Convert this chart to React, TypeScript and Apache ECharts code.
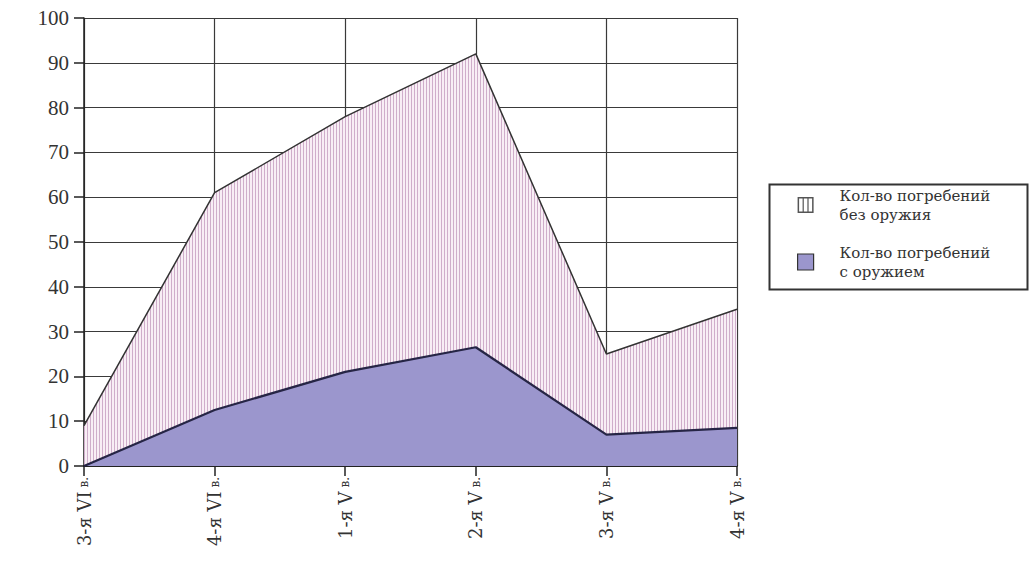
import React, { useEffect, useRef } from "react";
import * as echarts from "echarts";

const categories = ["3-я VI", "4-я VI", "1-я V", "2-я V", "3-я V", "4-я V"];
const centurySuffix = "в.";
const withWeapons = [0, 12.5, 21, 26.5, 7, 8.5];
const withoutWeapons = [9, 48.5, 57, 65.5, 18, 26.5];
const nameWithout = "Кол-во погребений\nбез оружия";
const nameWith = "Кол-во погребений\nс оружием";

const NUM_FONT = "Liberation Serif";
const TEXT_FONT = "DejaVu Serif";
const PURPLE = "#9b96cd";

function makeHatch() {
  const c = document.createElement("canvas");
  c.width = 3;
  c.height = 4;
  const ctx = c.getContext("2d")!;
  ctx.fillStyle = "#f8eef5";
  ctx.fillRect(0, 0, 3, 4);
  ctx.fillStyle = "#cfadca";
  ctx.fillRect(0, 0, 1, 4);
  return c;
}

const hatchIcon =
  "path://M0,0 L16,0 L16,16 L0,16 Z M1.5,1.5 L1.5,14.5 L14.5,14.5 L14.5,1.5 Z M5,1.5 L6.2,1.5 L6.2,14.5 L5,14.5 Z M9.8,1.5 L11,1.5 L11,14.5 L9.8,14.5 Z";

const legendText = {
  fontFamily: TEXT_FONT,
  fontSize: 15,
  lineHeight: 19,
  color: "#333",
  padding: [0, 0, 0, 21],
};

export default function App() {
  const ref = useRef<HTMLDivElement>(null);
  useEffect(() => {
    if (!ref.current) return;
    const chart = echarts.init(ref.current, undefined, { renderer: "svg" });
    const hatch = makeHatch();
    chart.setOption({
      animation: false,
      backgroundColor: "#ffffff",
      grid: { left: 84, right: 297, top: 18, bottom: 97, containLabel: false },
      xAxis: {
        type: "category",
        data: categories,
        boundaryGap: false,
        axisLine: { show: true, lineStyle: { color: "#222", width: 2 } },
        axisTick: { show: true, length: 10, lineStyle: { color: "#222", width: 1.5 } },
        splitLine: { show: true, lineStyle: { color: "#3a3a3a", width: 1.2 } },
        axisLabel: {
          rotate: 90,
          margin: 11,
          color: "#333",
          fontFamily: TEXT_FONT,
          formatter: (v: string) => `{a|${v}} {b|${centurySuffix}}`,
          rich: {
            a: { fontSize: 18, fontFamily: TEXT_FONT, color: "#333" },
            b: { fontSize: 12, fontFamily: TEXT_FONT, color: "#333" },
          },
        },
      },
      yAxis: {
        type: "value",
        min: 0,
        max: 100,
        interval: 10,
        axisLine: { show: true, lineStyle: { color: "#222", width: 1.5 } },
        axisTick: { show: true, length: 10, lineStyle: { color: "#222", width: 1.5 } },
        splitLine: { show: true, lineStyle: { color: "#3a3a3a", width: 1.2 } },
        axisLabel: { margin: 15, fontSize: 21, fontFamily: NUM_FONT, color: "#333" },
      },
      legend: {
        orient: "vertical",
        left: 797,
        top: 186,
        padding: 0,
        itemWidth: 16,
        itemHeight: 16,
        itemGap: 19,
        selectedMode: false,
        textStyle: legendText,
        data: [
          { name: nameWithout, icon: hatchIcon, itemStyle: { color: "#555" }, textStyle: legendText },
          {
            name: nameWith,
            icon: "rect",
            itemStyle: { color: PURPLE, borderColor: "#333", borderWidth: 1.2 },
            textStyle: legendText,
          },
        ],
      },
      graphic: [
        {
          type: "rect",
          left: 767,
          top: 182,
          shape: { width: 258, height: 105 },
          style: { fill: "none", stroke: "#333", lineWidth: 2 },
          silent: true,
        },
      ],
      series: [
        {
          name: nameWith,
          type: "line",
          stack: "total",
          data: withWeapons,
          symbol: "none",
          lineStyle: { color: "#262545", width: 2.2 },
          itemStyle: { color: PURPLE },
          areaStyle: { color: PURPLE, opacity: 1 },
          z: 3,
        },
        {
          name: nameWithout,
          type: "line",
          stack: "total",
          data: withoutWeapons,
          symbol: "none",
          lineStyle: { color: "#333", width: 1.5 },
          itemStyle: { color: "#c9aec9" },
          areaStyle: { color: { image: hatch, repeat: "repeat" }, opacity: 1 },
          z: 2,
        },
      ],
    });
    return () => chart.dispose();
  }, []);
  return (
    <div
      ref={ref}
      style={{ position: "absolute", left: 0, top: 0, width: 1034, height: 563 }}
    />
  );
}
